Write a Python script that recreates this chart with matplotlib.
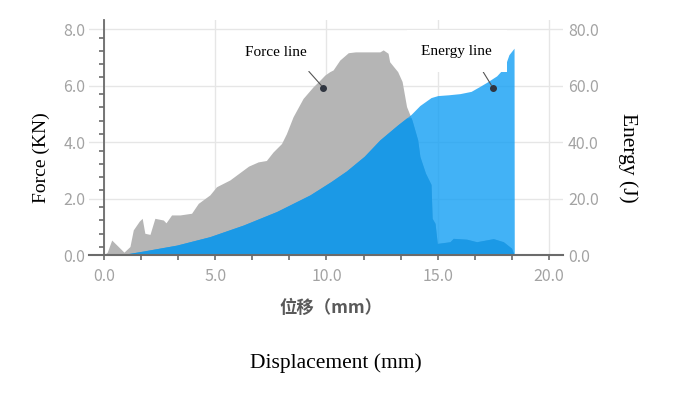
import numpy as np
import matplotlib
matplotlib.use("Agg")
import matplotlib.pyplot as plt
from matplotlib.ticker import FixedLocator, FormatStrFormatter

plt.rcParams["font.family"] = ["Noto Sans CJK SC", "DejaVu Sans"]

# --- data ---
force_x = [0, 0.15, 0.35, 0.8, 0.9, 1.17, 1.32, 1.59, 1.72, 1.84, 2.07, 2.29, 2.67, 2.79,
           3.04, 3.42, 3.94, 4.24, 4.76, 5.06, 5.66, 6.26, 6.5, 6.93, 7.3, 7.6, 7.98,
           8.2, 8.5, 8.95, 9.41, 9.71, 9.93, 10.15, 10.3, 10.6, 10.98, 11.3, 12.4, 12.55,
           12.77, 12.84, 13.2, 13.4, 13.6, 13.84, 14.1, 14.2, 14.45, 14.7, 14.75, 14.88,
           14.98, 15.55, 15.7, 16.3, 16.75, 17.5, 17.95, 18.32, 18.43]
force_kn = [0, 0.1, 0.53, 0.18, 0.1, 0.3, 0.89, 1.2, 1.3, 0.77, 0.73, 1.3, 1.24, 1.14,
            1.42, 1.42, 1.48, 1.83, 2.13, 2.42, 2.66, 3.01, 3.15, 3.3, 3.35, 3.65, 3.95,
            4.3, 4.9, 5.55, 5.97, 6.2, 6.38, 6.5, 6.56, 6.91, 7.17, 7.2, 7.2, 7.27,
            7.15, 6.85, 6.5, 6.15, 5.26, 4.79, 4.08, 3.49, 2.9, 2.5, 1.3, 1.12,
            0.41, 0.47, 0.59, 0.56, 0.47, 0.58, 0.47, 0.24, 0]

energy_x = [0, 0.72, 1.77, 3.27, 4.76, 6.26, 7.76, 9.26, 10.2, 10.9, 11.7, 12.4, 13.2, 13.8,
            14.2, 14.7, 15.0, 15.5, 16.0, 16.5, 16.9, 17.2, 17.65, 18.0, 18.2, 18.43, 18.44]
energy_j = [0, 0, 1.4, 3.5, 6.5, 10.6, 15.4, 21.3, 26.0, 29.8, 35.0, 40.8, 46.1, 49.8,
            53.0, 55.8, 56.5, 56.8, 57.2, 58.0, 59.8, 61.2, 63.5, 66.5, 71.0, 73.3, 0]

force_ticks = [0, 2, 4, 6, 8]
energy_ticks = [0, 20, 40, 60, 80]
disp_ticks = [0, 5, 10, 15, 20]

force_mark = (9.86, 5.93)
energy_mark = (17.48, 59.3)

GRAY = "#b5b5b5"
LIGHT = "#139ff4"
DARK = "#1b99e6"
GRID = "#e6e6e6"
AXIS = "#6b6b6b"
TICKLBL = "#a3a3a3"

fig = plt.figure(figsize=(7, 3.95), dpi=100)
ax = fig.add_axes([89 / 700, 1 - 255 / 395, 474 / 700, 235 / 395])

ax.set_xlim(-0.67, 20.63)
ax.set_ylim(0, 8.33)
ax.set_axisbelow(True)
ax.grid(True, color=GRID, lw=1)

ax.fill_between(force_x, force_kn, color=GRAY, lw=0, zorder=1)

ax2 = ax.twinx()
ax2.set_ylim(0, 83.3)
ax2.fill_between(energy_x, energy_j, color=LIGHT, alpha=0.8, lw=0, zorder=1)

# overlap of energy and force areas is drawn darker
xs = np.union1d(force_x, energy_x)
f_on_e = np.interp(xs, force_x, force_kn) * 10
e_on_e = np.interp(xs, energy_x, energy_j)
ax2.fill_between(xs, np.minimum(f_on_e, e_on_e), color=DARK, lw=0, zorder=1.1)

# spines: axis lines drawn on the top axes so the fills do not hide them
for a in (ax, ax2):
    for s in a.spines.values():
        s.set_visible(False)
ax.spines["left"].set_position(("data", 0))
ax2.spines["left"].set_position(("data", 0))
ax2.spines["left"].set_visible(True)
ax2.spines["bottom"].set_visible(True)
ax2.spines["left"].set_color(AXIS)
ax2.spines["bottom"].set_color(AXIS)
ax2.spines["left"].set_linewidth(1.3)
ax2.spines["bottom"].set_linewidth(1.5)

# x ticks
ax.xaxis.set_major_locator(FixedLocator(disp_ticks))
ax.xaxis.set_major_formatter(FormatStrFormatter("%.1f"))
minor_x = [k * 5 / 3 for k in range(1, 12) if k % 3]
ax.xaxis.set_minor_locator(FixedLocator(minor_x))
ax.tick_params(axis="x", which="both", direction="out", length=3.5, width=1.2,
               color=AXIS, labelsize=11.5, labelcolor=TICKLBL, pad=6)

# left y ticks
ax.yaxis.set_major_locator(FixedLocator(force_ticks))
ax.yaxis.set_major_formatter(FormatStrFormatter("%.1f"))
minor_y = [2 * k + o for k in range(4) for o in (0.3, 0.76, 1.24, 1.7)]
ax.yaxis.set_minor_locator(FixedLocator(minor_y))
ax.tick_params(axis="y", which="major", length=0, pad=13.5,
               labelsize=11.5, labelcolor=TICKLBL)
ax.tick_params(axis="y", which="minor", direction="out", length=3.6, width=1.2, color=AXIS)

# right y ticks
ax2.yaxis.set_major_locator(FixedLocator(energy_ticks))
ax2.yaxis.set_major_formatter(FormatStrFormatter("%.1f"))
ax2.tick_params(axis="y", which="major", length=0, pad=3.6,
                labelsize=11.5, labelcolor=TICKLBL)

# annotations
ax.plot(*force_mark, "o", ms=4, color="#2f3540", zorder=5)
ax.annotate("Force line", xy=force_mark, xytext=(7.75, 7.17), textcoords="data",
            ha="center", va="center", fontsize=11, family="Liberation Serif",
            bbox=dict(boxstyle="square,pad=0.8", fc="white", ec="none"), zorder=6,
            arrowprops=dict(arrowstyle="-", color="#555555", lw=0.8,
                            shrinkA=0, shrinkB=2, relpos=(0.85, 0)))
ax2.plot(*energy_mark, "o", ms=4, color="#2f3540", zorder=5)
ax2.annotate("Energy line", xy=energy_mark, xytext=(15.85, 72.3), textcoords="data",
             ha="center", va="center", fontsize=11, family="Liberation Serif",
             bbox=dict(boxstyle="square,pad=0.95", fc="white", ec="none"), zorder=6,
             arrowprops=dict(arrowstyle="-", color="#555555", lw=0.8,
                             shrinkA=0, shrinkB=2, relpos=(0.75, 0)))

# axis titles
fig.text(41.7 / 700, 1 - 158 / 395, "Force (KN)", rotation=90, ha="center", va="center",
         fontsize=14, family="Liberation Serif")
fig.text(628 / 700, 1 - 158 / 395, "Energy (J)", rotation=-90, ha="center", va="center",
         fontsize=15.5, family="Liberation Serif")
fig.text(331 / 700, 1 - 308 / 395, "位移（mm）", ha="center", va="center",
         fontsize=12.5, color="#5a5a5a", weight="bold")
fig.text(336 / 700, 1 - 363 / 395, "Displacement (mm)", ha="center", va="center",
         fontsize=15.5, family="Liberation Serif")

fig.savefig("out.png", dpi=100)
